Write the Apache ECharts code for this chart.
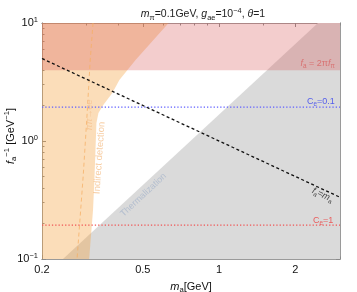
<!DOCTYPE html>
<html><head><meta charset="utf-8">
<script src="https://cdn.jsdelivr.net/npm/echarts@6/dist/echarts.min.js"></script>
<style>html,body{margin:0;padding:0;background:#fff}#c{width:357px;height:292px}</style>
</head><body><div id="c"></div>
<script>
// ---- axis ranges & ticks (GeV, GeV^-1)
const xMin = 0.2, xMax = 3.0, yMin = 0.1, yMax = 10;
const xMajorTicks = [0.2, 0.5, 1, 2];
const xMinorTicks = [0.3, 0.4, 0.6, 0.7, 0.8, 0.9, 1.5, 3];
const yMajorTicks = [0.1, 1, 10];
const yMinorTicks = [0.2, 0.3, 0.4, 0.5, 0.6, 0.7, 0.8, 0.9, 2, 3, 4, 5, 6, 7, 8, 9];

// ---- regions (polygon vertices)
const thermalX = [0.242, 2.456, 3.0, 3.0];
const thermalY = [0.1, 10, 10, 0.1];
const indirectX = [0.2, 0.632, 0.468, 0.404, 0.379, 0.349, 0.334, 0.328, 0.322, 0.318, 0.307, 0.2];
const indirectY = [10, 10, 4.86, 3.29, 2.55, 2.02, 1.73, 1.42, 0.467, 0.26, 0.1, 0.1];
const pionBandX = [0.2, 3.0, 3.0, 0.2];
const pionBandY = [3.98, 3.98, 10, 10];

// ---- lines
const faEqMaX = [0.2, 3.0];
const faEqMaY = [5.0, 0.3333];
const ce01X = [0.2, 3.0];
const ce01Y = [1.94, 1.94];
const ce1X = [0.2, 3.0];
const ce1Y = [0.194, 0.194];
const pipieeX = [0.318, 0.310, 0.302, 0.291, 0.275];
const pipieeY = [10, 4.86, 1.83, 0.515, 0.1];

// ---- text annotations
const annText = ['{i|ππ→ee}', '{n|Indirect detection}', '{n|Thermalization}', '{i|f}{sb|a}{i|=m}{sb|a}', '{i|f}{sb|a}{n| = 2π}{i|f}{sb|π}', '{n|C}{sb|e}{n|=0.1}', '{n|C}{sb|e}{n|=1}'];
const annX = [0.307, 0.337, 0.503, 2.56, 2.86, 2.86, 2.82];
const annY = [1.66, 0.718, 0.349, 0.349, 4.58, 2.18, 0.213];
const annRot = [90, 86, 43, -25, 0, 0, 0];
const annColor = ['#f5c18c', '#f5c18c', '#a9b6cc', '#111', '#d86060', '#2f3cf0', '#ee3b3b'];
const annAlignRight = [false, false, false, false, true, true, true];

const L = Math.log10;
const FONT = 'Liberation Sans, Arial, sans-serif';

function toPts(xs, ys) { return xs.map((v, i) => [L(v), L(ys[i])]); }

function polygonSeries(xs, ys, fill, z) {
  const pts = toPts(xs, ys);
  return {
    type: 'custom', coordinateSystem: 'cartesian2d', z: z, silent: true,
    data: pts,
    renderItem: function (params, api) {
      if (params.dataIndex !== 0) return null;
      return { type: 'polygon', shape: { points: pts.map(p => api.coord(p)) }, style: { fill: fill } };
    }
  };
}
function lineSeries(xs, ys, color, width, dash, z) {
  return {
    type: 'line', data: toPts(xs, ys), symbol: 'none', z: z, silent: true,
    lineStyle: { color: color, width: width, type: dash }
  };
}

function rich(size, color) {
  const s = Math.round(size * 0.7 * 10) / 10;
  return {
    n: { fontFamily: FONT, fontSize: size, fontWeight: 'normal', color: color, lineHeight: Math.round(size * 1.35) },
    i: { fontFamily: FONT, fontSize: size, fontWeight: 'normal', fontStyle: 'italic', color: color, lineHeight: Math.round(size * 1.35) },
    sb: { fontFamily: FONT, fontSize: s, fontWeight: 'normal', color: color, verticalAlign: 'bottom' },
    sp: { fontFamily: FONT, fontSize: s, fontWeight: 'normal', color: color, verticalAlign: 'top' }
  };
}

const annData = annText.map((t, k) => ({
  value: [L(annX[k]), L(annY[k])],
  label: {
    show: true, formatter: t, rotate: annRot[k], color: annColor[k],
    position: annAlignRight[k] ? 'left' : 'inside', distance: 0,
    rich: rich(k === 1 ? 9.5 : 9, annColor[k])
  }
}));

const axisLineStyle = { show: true, onZero: false, lineStyle: { color: '#9a9a9a', width: 1 } };
function xAx(pos, ticks, len, labels) {
  return {
    type: 'value', position: pos, min: L(xMin), max: L(xMax), splitLine: { show: false },
    axisLine: axisLineStyle,
    axisTick: { show: true, inside: true, length: len, customValues: ticks.map(L), lineStyle: { color: '#8a8a8a' } },
    axisLabel: labels ? {
      show: true, customValues: ticks.map(L), margin: 5, color: '#111', fontFamily: FONT, fontSize: 11,
      formatter: v => { const r = Math.round(Math.pow(10, v) * 10) / 10; return String(r); }
    } : { show: false }
  };
}
function yAx(pos, ticks, len, labels) {
  return {
    type: 'value', position: pos, min: L(yMin), max: L(yMax), splitLine: { show: false },
    axisLine: axisLineStyle,
    axisTick: { show: true, inside: true, length: len, customValues: ticks.map(L), lineStyle: { color: '#8a8a8a' } },
    axisLabel: labels ? {
      show: true, customValues: ticks.map(L), margin: 4, color: '#111',
      formatter: v => { const e = Math.round(v); return '{b|10}{s|' + (e < 0 ? '−' + (-e) : e) + '}'; },
      rich: {
        b: { fontFamily: FONT, fontSize: 11, color: '#111', lineHeight: 14 },
        s: { fontFamily: FONT, fontSize: 7.5, color: '#111', verticalAlign: 'top' }
      }
    } : { show: false }
  };
}

const xAxes = [xAx('bottom', xMajorTicks, 4, true), xAx('bottom', xMinorTicks, 2.5, false), xAx('top', xMajorTicks, 4, false), xAx('top', xMinorTicks, 2.5, false)];
xAxes[0].name = '{i|m}{sb|a}{n|[GeV]}';
xAxes[0].nameLocation = 'middle';
xAxes[0].nameGap = 20;
xAxes[0].nameTextStyle = { rich: rich(11, '#111') };
const yAxes = [yAx('left', yMajorTicks, 4, true), yAx('left', yMinorTicks, 2.5, false), yAx('right', yMajorTicks, 4, false), yAx('right', yMinorTicks, 2.5, false)];
yAxes[0].name = '{i|f}{sb|a}{sp|−1}{n| [GeV}{sp|−1}{n|]}';
yAxes[0].nameLocation = 'middle';
yAxes[0].nameRotate = 90;
yAxes[0].nameGap = 24;
yAxes[0].nameMoveOverlap = false;
yAxes[0].nameTextStyle = { padding: [0, 0, 0, 10], rich: rich(11, '#111') };

const chart = echarts.init(document.getElementById('c'), null, { renderer: 'canvas' });
chart.setOption({
  animation: false,
  backgroundColor: '#fff',
  title: {
    text: '{i|m}{sb|π}{n|=0.1GeV, }{i|g}{sb|ae}{n|=10}{sp|−4}{n|, }{i|θ}{n|=1}',
    left: 198, top: 2, textAlign: 'center',
    textStyle: { fontWeight: 'normal', rich: rich(10.5, '#222') }
  },
  grid: { left: 42, right: 17, top: 23, bottom: 33, containLabel: false, outerBoundsMode: 'none' },
  xAxis: xAxes,
  yAxis: yAxes,
  series: [
    polygonSeries(thermalX, thermalY, 'rgb(218,218,218)', 1),
    polygonSeries(indirectX, indirectY, 'rgba(245,160,60,0.36)', 2),
    polygonSeries(pionBandX, pionBandY, 'rgba(215,90,90,0.3)', 3),
    lineSeries(pipieeX, pipieeY, 'rgba(245,175,100,0.75)', 1, [4, 3], 4),
    lineSeries(ce01X, ce01Y, 'rgb(95,95,255)', 1.3, [1.3, 2], 5),
    lineSeries(ce1X, ce1Y, 'rgb(240,85,85)', 1.3, [1.3, 2], 5),
    lineSeries(faEqMaX, faEqMaY, '#111', 1.3, [3, 2.5], 6),
    { type: 'scatter', symbolSize: 0, z: 7, silent: true, data: annData }
  ]
});
</script></body></html>
